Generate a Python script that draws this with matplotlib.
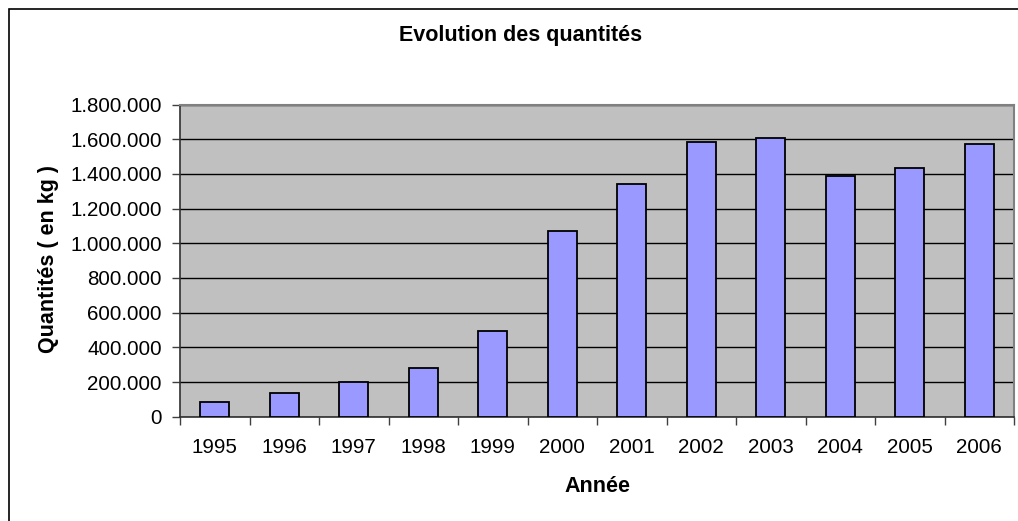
import numpy as np
import matplotlib
matplotlib.use("Agg")
import matplotlib.pyplot as plt
from matplotlib.ticker import FuncFormatter, FixedLocator
from matplotlib.patches import Rectangle

plt.rcParams['font.family'] = ['Liberation Sans', 'DejaVu Sans']

# data
annees = ['1995', '1996', '1997', '1998', '1999', '2000',
          '2001', '2002', '2003', '2004', '2005', '2006']
quantites = [83000, 135000, 201000, 282000, 495000, 1071000,
             1339000, 1582000, 1604000, 1390000, 1434000, 1571000]

fig = plt.figure(figsize=(10.18, 5.21), dpi=100)
ax = fig.add_axes([180/1018, 1 - 416.7/521, (1014 - 180)/1018, (416.7 - 104.5)/521])

x = np.arange(len(annees))
ax.set_facecolor('#C0C0C0')
ax.bar(x, quantites, width=0.42, color='#9999FF', edgecolor='black', linewidth=1.3, zorder=3)

ax.set_ylim(0, 1800000)
ax.set_xlim(-0.5, len(annees) - 0.5)
ax.set_yticks(np.arange(0, 1800001, 200000))
ax.yaxis.set_major_formatter(FuncFormatter(lambda v, p: f"{int(v):,}".replace(",", ".")))
ax.yaxis.grid(True, color='black', linewidth=1, zorder=1)

# ticks at the category boundaries, labels in the middle
ax.xaxis.set_major_locator(FixedLocator(np.arange(-0.5, len(annees), 1.0)))
ax.xaxis.set_minor_locator(FixedLocator(x))
ax.set_xticklabels([''] * (len(annees) + 1))
ax.set_xticklabels(annees, minor=True)
ax.tick_params(axis='x', which='major', length=6, width=1, color='#404040')
ax.tick_params(axis='x', which='minor', length=0, pad=15, labelsize=14.8)
ax.tick_params(axis='y', length=6, width=1, color='#404040', pad=7, labelsize=14.8)

for s in ['top', 'right']:
    ax.spines[s].set_color('#808080')
    ax.spines[s].set_linewidth(1.5)
for s in ['left', 'bottom']:
    ax.spines[s].set_color('#303030')
    ax.spines[s].set_linewidth(1.2)

ax.set_xlabel('Année', fontsize=15.5, fontweight='bold', va='center')
ax.set_ylabel('Quantités ( en kg )', fontsize=15.5, fontweight='bold', va='center')
ax.xaxis.set_label_coords(597/1018 * 0 + (597 - 180)/834, -(486 - 416.7)/312.2)
ax.yaxis.set_label_coords(-(180 - 49)/834, (416.7 - 259)/312.2)
fig.text(521/1018, 1 - 36/521, 'Evolution des quantités', fontsize=15.5,
         fontweight='bold', ha='center', va='center')

# outer chart border (cut off on the right and bottom)
fig.add_artist(Rectangle((9/1018, -0.1), 1.2, 1 - 9/521 + 0.1, transform=fig.transFigure,
                         fill=False, edgecolor='black', linewidth=1.2, clip_on=False))

fig.savefig('out.png', dpi=100)
